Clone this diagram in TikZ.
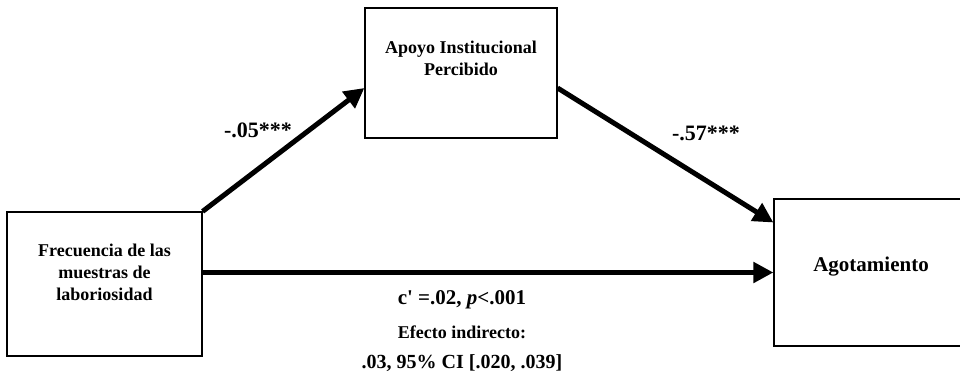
\documentclass[tikz,border=0pt]{standalone}
\usepackage{fontspec}
\setmainfont{Liberation Serif}
\newfontfamily\nomapfont{Liberation Serif}[Ligatures=TeXOff]
\usetikzlibrary{arrows.meta}
\tikzset{
  varbox/.style={draw, line width=1.2pt, inner sep=0pt},
  boxtext/.style={font=\bfseries\fontsize{18}{22}\selectfont, align=center},
  coef/.style={font=\bfseries\fontsize{22}{26}\selectfont},
  path arrow/.style={line width=5pt, -{Triangle[length=20pt,width=20pt]}}
}
\begin{document}
\begin{tikzpicture}[x=1pt,y=-1pt]
\useasboundingbox[fill=white] (0,0) rectangle (960,380);

% Define boxes
\node[varbox, minimum width=195pt, minimum height=144pt] (freq) at (104.5,284) {}; % Predictor
\node[varbox, minimum width=192pt, minimum height=130pt] (apoyo) at (461,73) {}; % Mediator
\node[varbox, minimum width=190pt, minimum height=147pt] (agot) at (869,272.5) {}; % Outcome

% Box texts
\node[boxtext] (freqtxt) at ([yshift=12pt]freq.center) {Frecuencia de las\\muestras de\\laboriosidad};
\node[boxtext] (apoyotxt) at ([yshift=15pt]apoyo.center) {Apoyo Institucional\\Percibido};
\node[boxtext, font=\bfseries\fontsize{21}{25}\selectfont] (agottxt) at (871,267) {Agotamiento};

% Draw paths
\draw[path arrow] (freq.north east) -- ([yshift=-15pt]apoyo.west);
\draw[path arrow] ([yshift=-15pt]apoyo.east) -- ([yshift=50pt]agot.west);
\draw[path arrow] (freq.east |- agot.west) -- (agot.west);

% Coefficients
\node[coef] (a) at (258,130) {-.05***};
\node[coef] (b) at (706,133) {-.57***};
\node[coef, font=\bfseries\fontsize{21}{25}\selectfont] (c) at (462,300) {c{\nomapfont\bfseries '} =.02, \textit{p}<.001};
\node[boxtext] (ind) at (462,332) {Efecto indirecto:};
\node[coef, font=\bfseries\fontsize{20}{24}\selectfont] (ci) at (462,363) {.03, 95\% CI [.020, .039]};

\end{tikzpicture}
\end{document}
